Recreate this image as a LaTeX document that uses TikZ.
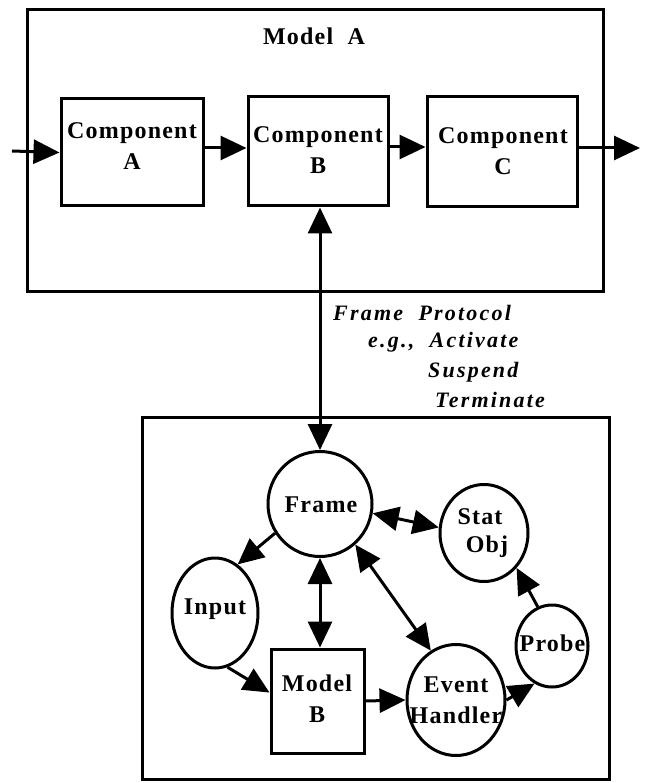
\documentclass[tikz,border=0pt]{standalone}
\usepackage{fontspec}
\setmainfont{Liberation Serif}[LetterSpace=5]
\newfontfamily\notefont{Liberation Serif}[LetterSpace=10]
\usetikzlibrary{arrows.meta,shapes.geometric}
\begin{document}
\begin{tikzpicture}[x=1pt,y=-1pt,
  lw/.style={line width=3pt},
  boxnode/.style={draw, lw, rectangle, inner sep=0pt},
  roundnode/.style={draw, lw, ellipse, inner sep=0pt},
  lbl/.style={font=\fontsize{24}{31}\selectfont\bfseries, align=center, inner sep=0pt},
  note/.style={font=\notefont\fontsize{22}{28}\selectfont\bfseries\itshape, anchor=west, inner sep=0pt},
  flow/.style={lw, -{Triangle[length=26pt,width=24pt]}},
  twoway/.style={lw, {Triangle[length=26pt,width=24pt]}-{Triangle[length=26pt,width=24pt]}},
]
\useasboundingbox (0,0) rectangle (648,783);

% ---- Model A with its three components ----
\node[boxnode, minimum width=576pt, minimum height=281pt] (modelA) at (315,150.5) {};
\node[lbl] (titleA) at (314,36) {Model\ \ A};

\node[boxnode, minimum width=142pt, minimum height=107pt] (compA) at (132,152.5) {};
\node[boxnode, minimum width=140pt, minimum height=109pt] (compB) at (318,151.5) {};
\node[boxnode, minimum width=150pt, minimum height=110pt] (compC) at (502,152) {};
\node[lbl] (txtA) at (132,146) {Component\\A};
\node[lbl] (txtB) at (318,150.5) {Component\\B};
\node[lbl] (txtC) at (503,151.5) {Component\\C};

\coordinate (inA) at (12,151);
\coordinate (outC) at (640,148);
\draw[flow] (inA) -- (compA.west);
\draw[flow] ([yshift=4.5pt]compA.east) -- ([yshift=4.5pt]compA.east -| compB.west);
\draw[flow] ([yshift=4.5pt]compB.east) -- ([yshift=4.5pt]compB.east -| compC.west);
\draw[flow] (compC.east |- outC) -- (outC);

% ---- frame protocol annotation ----
\node[note] (fp1) at (333,313) {Frame\ \ Protocol};
\node[note] (fp2) at (368,342) {e.g.,\ \ Activate};
\node[note] (fp3) at (428,372) {Suspend};
\node[note] (fp4) at (435,400) {Terminate};

% ---- Model B ----
\node[boxnode, minimum width=467pt, minimum height=362pt] (modelBframe) at (375.5,598) {};

\node[roundnode, minimum width=104pt, minimum height=105pt] (frame) at (320,504) {};
\node[roundnode, minimum width=86pt, minimum height=110pt] (input) at (215,613) {};
\node[boxnode, minimum width=93pt, minimum height=104pt] (modelB) at (317.5,701) {};
\node[roundnode, minimum width=98pt, minimum height=111pt] (event) at (456,700) {};
\node[roundnode, minimum width=72pt, minimum height=82pt] (probe) at (552,646) {};
\node[roundnode, minimum width=88pt, minimum height=97pt] (stat) at (484,533) {};

\node[lbl] (txtFrame) at (321,505) {Frame};
\node[lbl] (txtInput) at (215,609) {Input};
\node[lbl] (txtModelB) at (317,698.5) {Model\\B};
\node[lbl] (txtEvent) at (456,700) {Event\\Handler};
\node[lbl] (txtStat) at (480,517) {Stat};
\node[lbl] (txtObj) at (487,547) {Obj};
\node[lbl] (txtProbe) at (552.5,643) {Probe};

\draw[twoway] (compB.south -| frame.north) -- (frame.north);
\draw[flow] (frame.213) -- (input.65);
\draw[twoway] (frame.south) -- (frame.south |- modelB.north);
\draw[twoway] (frame.311) -- (event.117);
\draw[twoway] (frame.350) -- (stat.173);
\draw[flow] (input.283) -- (modelB.170);
\draw[flow] (modelB.east) -- (event.west);
\draw[flow] (event.0) -- (probe.245);
\draw[flow] (probe.110) -- (stat.313);
\end{tikzpicture}
\end{document}
